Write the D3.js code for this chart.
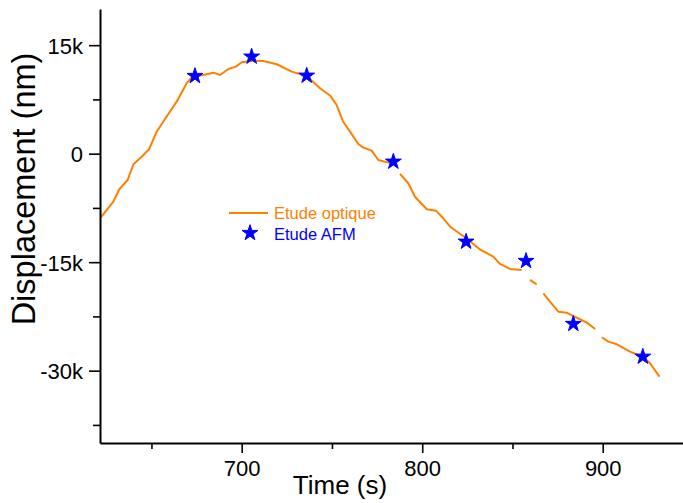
<!DOCTYPE html>
<html>
<head>
<meta charset="utf-8">
<script src="https://cdn.jsdelivr.net/npm/d3@7"></script>
<style>
html,body{margin:0;padding:0;background:#fff;}
svg{display:block;font-family:"Liberation Sans",Arial,sans-serif;}
</style>
</head>
<body>
<svg id="chart" width="683" height="503"></svg>
<script>
// ---- data ----
const opticTime = [618.0,621.5,628.9,632.2,636.8,640.0,644.6,648.7,652.9,657.5,664.0,669.5,672.3,678.7,684.3,688.0,692.6,696.8,700.0,706.4,712.0,719.4,727.7,736.0,743.4,748.9,752.6,756.0,760.0,764.6,767.4,772.0,775.7,781.2,783.8,785.5,787.7,792.3,796.0,802.5,807.6,811.7,815.8,823.7,832.0,839.4,843.1,848.6,855.1,857.5,859.7,863.4,865.0,867.1,870.8,875.4,880.0,883.5,887.4,891.2,895.8,897.5,899.5,903.1,907.8,915.1,922.2,926.2,931.4];
const opticDisp = [-10000,-8930,-6640,-4920,-3640,-1470,-420,610,3040,4800,7190,9730,10560,10880,11200,10880,11710,12030,12640,12860,12820,12360,11340,10740,9040,8050,6730,4520,3040,1340,830,420,-870,-1240,-1360,null,-2810,-4090,-5950,-7690,-7880,-8930,-10180,-11560,-13240,-14240,-15250,-15940,-16080,null,-17460,-18060,null,-19300,-20460,-21840,-21980,-22440,-22890,-23360,-24240,null,-25380,-25990,-26350,-27370,-28070,-28980,-30830];
const afmTime = [674.1,705.5,736.0,784.0,824.3,857.5,883.7,922.2];
const afmDisp = [10740,13410,10780,-1110,-12170,-14830,-23540,-28070];
const xMajorTicks = [700,800,900];
const xMinorTicks = [650,750,850];
const yMajorTicks = [15000,0,-15000,-30000];
const yTickLabels = ["15k","0","-15k","-30k"];
const yMinorTicks = [7500,-7500,-22500,-37500];
const seriesNames = ["Etude optique","Etude AFM"];

// ---- layout ----
const svg = d3.select("#chart");
const mLeft = 100, mBottom = 443, mTop = 9, mRight = 693;
const x = d3.scaleLinear().domain([621.5, 950]).range([mLeft, mRight]);
const y = d3.scaleLinear().domain([-40000, 20000]).range([mBottom, mTop]);
const orangeLine = "#ff8000", blue = "#0000ff";

svg.append("defs").append("clipPath").attr("id","plotclip")
  .append("rect").attr("x",mLeft).attr("y",mTop).attr("width",mRight-mLeft).attr("height",mBottom-mTop);

// line
const line = d3.line()
  .defined((d,i)=>opticDisp[i]!==null)
  .x((d,i)=>x(opticTime[i]))
  .y((d,i)=>y(opticDisp[i]));
svg.append("path")
  .attr("clip-path","url(#plotclip)")
  .attr("d", line(opticTime))
  .attr("fill","none").attr("stroke",orangeLine).attr("stroke-width",2)
  .attr("stroke-linejoin","round");

// stars
const star = d3.symbol().type(d3.symbolStar).size(78);
svg.append("g").selectAll("path").data(afmTime).join("path")
  .attr("d", star())
  .attr("transform",(d,i)=>`translate(${x(d)},${y(afmDisp[i])})`)
  .attr("fill",blue).attr("stroke",blue).attr("stroke-width",1);

// axes
const xAxis = svg.append("g").attr("transform",`translate(0,${mBottom})`);
xAxis.call(d3.axisBottom(x).tickValues(xMajorTicks).tickSize(10).tickSizeOuter(0).tickPadding(7).tickFormat(d3.format("d")));
const xMinor = svg.append("g").attr("transform",`translate(0,${mBottom})`);
xMinor.call(d3.axisBottom(x).tickValues(xMinorTicks).tickSize(6).tickFormat(""));
xMinor.select(".domain").remove();

const yAxis = svg.append("g").attr("transform",`translate(${mLeft},0)`);
yAxis.call(d3.axisLeft(y).tickValues(yMajorTicks).tickSize(11).tickSizeOuter(0).tickPadding(6)
  .tickFormat((d)=>yTickLabels[yMajorTicks.indexOf(d)]));
const yMinor = svg.append("g").attr("transform",`translate(${mLeft},0)`);
yMinor.call(d3.axisLeft(y).tickValues(yMinorTicks).tickSize(7).tickFormat(""));
yMinor.select(".domain").remove();

svg.selectAll(".domain").attr("stroke","#000").attr("stroke-width",2);
svg.selectAll(".tick line").attr("stroke","#000").attr("stroke-width",1.6);
svg.selectAll(".tick text").attr("fill","#000").attr("font-size",22)
  .attr("font-family","'Liberation Sans',Arial,sans-serif");
yAxis.selectAll(".tick text").attr("dy","0.36em");
xAxis.selectAll(".tick text").attr("dy","0.71em");

// axis titles
svg.append("text").attr("x",340).attr("y",494).attr("text-anchor","middle")
  .attr("font-size",26).attr("fill","#000").text("Time (s)");
svg.append("text").attr("transform","translate(35,189) rotate(-90)")
  .attr("text-anchor","middle").attr("font-size",32.5).attr("fill","#000")
  .text("Displacement (nm)");

// legend
const lg = svg.append("g");
lg.append("line").attr("x1",229).attr("x2",268).attr("y1",213).attr("y2",213)
  .attr("stroke",orangeLine).attr("stroke-width",2);
lg.append("text").attr("x",274).attr("y",218.5).attr("font-size",16.5)
  .attr("fill",orangeLine).text(seriesNames[0]);
lg.append("path").attr("d",star()).attr("transform","translate(250,233)")
  .attr("fill",blue).attr("stroke",blue).attr("stroke-width",1);
lg.append("text").attr("x",274).attr("y",239.5).attr("font-size",16.5)
  .attr("fill",blue).text(seriesNames[1]);
</script>
</body>
</html>
